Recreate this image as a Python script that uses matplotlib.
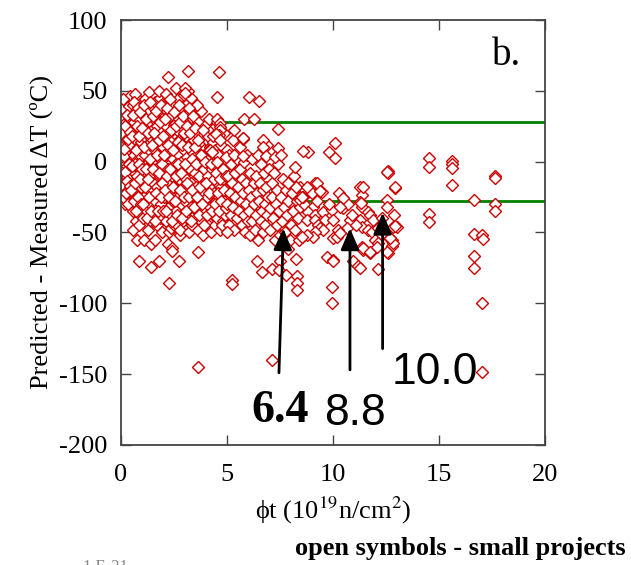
import numpy as np
import matplotlib
matplotlib.use("Agg")
import matplotlib.pyplot as plt
from matplotlib import font_manager

plt.rcParams['font.family'] = ['Liberation Serif', 'DejaVu Serif']
plt.rcParams['mathtext.fontset'] = 'stix'
plt.rcParams['axes.unicode_minus'] = False

# (fluence 1e19 n/cm2, predicted - measured shift degC)
core = [
    (0.05, 12), (0.05, -5), (0.08, 30), (0.1, -20), (0.1, 2), (0.12, 40), (0.15, -12), (0.15, 22),
    (0.18, 8), (0.2, -28), (0.2, 35), (0.22, -2), (0.25, 15), (0.25, -18), (0.28, 42), (0.3, -8),
    (0.3, 27), (0.32, 5), (0.35, -25), (0.35, 33), (0.38, -14), (0.4, 19), (0.4, 46), (0.42, 0),
    (0.45, -22), (0.45, 10), (0.48, 37), (0.5, -10), (0.5, 24), (0.08, -12), (0.12, 18), (0.18, -30),
    (0.22, 28), (0.28, -3), (0.33, -19), (0.38, 12), (0.43, 30), (0.47, -28), (0.03, 38), (0.03, -24),
    (0.16, 4), (0.26, -11), (0.36, 39), (0.46, -4),
    (0.55, -35), (0.55, 40), (0.6, 5), (0.6, -20), (0.62, 28), (0.65, -8), (0.68, 16), (0.7, -42),
    (0.7, 34), (0.72, -26), (0.75, 1), (0.75, 45), (0.78, 22), (0.8, -15), (0.8, -32), (0.82, 10),
    (0.85, 38), (0.85, -5), (0.88, -22), (0.9, 26), (0.9, -38), (0.92, 4), (0.95, 14), (0.95, -12),
    (0.98, 42), (0.98, -28), (0.58, -48), (0.66, 48), (0.74, -55), (0.86, -45), (0.64, -2), (0.84, 30),
    (0.94, -18),
    (1.02, -8), (1.05, 33), (1.05, -40), (1.08, 18), (1.1, -25), (1.12, 5), (1.15, 44), (1.15, -15),
    (1.18, 25), (1.2, -34), (1.22, -2), (1.25, 12), (1.25, -48), (1.28, 36), (1.3, -20), (1.32, 8),
    (1.35, -30), (1.35, 28), (1.38, -10), (1.4, 17), (1.42, 40), (1.42, -42), (1.45, 0), (1.48, -25),
    (1.48, 22), (1.32, 49), (1.1, -55), (1.4, -58),
    (1.52, -15), (1.55, 30), (1.55, -38), (1.58, 8), (1.6, -28), (1.62, 42), (1.65, -5), (1.65, 18),
    (1.68, -45), (1.7, 25), (1.72, -18), (1.75, 3), (1.75, 35), (1.78, -32), (1.8, 12), (1.82, -10),
    (1.85, 45), (1.85, -40), (1.88, 20), (1.9, -22), (1.92, -2), (1.95, 30), (1.95, -50), (1.98, 10),
    (1.6, -55), (1.78, 50), (1.9, -30),
    (2.02, -25), (2.05, 15), (2.05, 38), (2.08, -8), (2.1, -42), (2.12, 25), (2.15, -15), (2.18, 5),
    (2.2, 45), (2.2, -33), (2.22, -5), (2.25, 20), (2.28, -50), (2.3, 32), (2.3, -20), (2.32, 8),
    (2.35, -38), (2.38, 14), (2.4, -10), (2.42, 42), (2.45, -28), (2.45, 2), (2.48, 26), (2.2, -58),
    (2.35, -47), (2.1, 48), (2.48, -45),
    (2.52, -18), (2.55, 35), (2.55, 10), (2.58, -35), (2.6, -2), (2.62, 22), (2.65, -45), (2.68, 44),
    (2.7, -25), (2.72, 5), (2.75, 30), (2.75, -12), (2.78, -52), (2.8, 16), (2.82, -30), (2.85, 38),
    (2.85, 0), (2.88, -20), (2.9, 24), (2.92, -42), (2.95, 8), (2.98, -8), (2.98, 47), (2.6, 52),
    (2.8, -48),
    (3.02, -28), (3.05, 18), (3.05, 40), (3.08, -12), (3.1, -40), (3.12, 3), (3.15, 28), (3.18, -20),
    (3.2, -50), (3.22, 12), (3.25, 35), (3.25, -5), (3.28, -32), (3.3, 22), (3.32, -15), (3.35, -45),
    (3.38, 6), (3.4, 30), (3.42, -25), (3.45, 15), (3.48, -8), (3.48, -38), (3.3, 45), (3.15, 50),
    (3.52, -18), (3.55, 20), (3.58, -35), (3.6, 5), (3.62, -48), (3.65, 28), (3.68, -10), (3.7, -28),
    (3.72, 12), (3.75, 36), (3.78, -42), (3.8, -2), (3.82, 18), (3.85, -22), (3.88, -52), (3.9, 8),
    (3.92, -15), (3.95, 25), (3.98, -35), (3.6, 40), (3.9, -5),
    (4.02, 2), (4.05, -25), (4.08, 18), (4.1, -45), (4.12, -10), (4.15, 30), (4.18, -32), (4.2, 10),
    (4.22, -18), (4.25, -50), (4.28, 22), (4.3, -5), (4.32, -38), (4.35, 14), (4.38, -22), (4.4, -2),
    (4.42, -45), (4.45, 8), (4.48, -28), (4.5, 25),
    (4.52, -15), (4.55, -40), (4.58, 5), (4.6, -25), (4.62, 18), (4.65, -8), (4.68, -48), (4.7, -18),
    (4.72, 12), (4.75, -32), (4.78, -2), (4.8, -42), (4.82, -12), (4.85, 20), (4.88, -28), (4.9, 2),
    (4.92, -38), (4.95, -20), (4.98, 8), (4.55, 28), (4.51, 30),
]

# second pass over the low-fluence cloud
core_fill = [
    (0.02, 20), (0.06, -16), (0.09, 44), (0.13, -26), (0.14, 9), (0.19, -7), (0.21, 25), (0.24, -22),
    (0.27, 33), (0.29, -14), (0.31, 16), (0.34, -30), (0.37, -2), (0.41, -17), (0.44, 21), (0.49, -20),
    (0.52, -3), (0.54, 18), (0.57, 33), (0.59, -28), (0.63, 42), (0.67, -15), (0.69, 8), (0.71, -35),
    (0.73, 25), (0.77, -10), (0.79, 38), (0.81, -25), (0.83, -2), (0.87, 18), (0.89, -12), (0.91, 35),
    (0.93, -30), (0.97, -5), (0.99, 24),
    (1.03, -30), (1.07, 10), (1.09, 40), (1.13, -18), (1.17, -5), (1.19, 30), (1.23, -40), (1.27, 20),
    (1.29, -12), (1.33, -25), (1.37, 42), (1.39, 2), (1.43, -35), (1.47, 12), (1.49, 32),
    (1.53, -5), (1.57, 20), (1.59, -42), (1.63, 36), (1.67, -22), (1.69, 5), (1.73, -35), (1.77, 15),
    (1.79, -8), (1.83, 28), (1.87, -25), (1.89, 40), (1.93, -15), (1.97, 18), (1.99, -35),
    (2.03, 5), (2.07, 30), (2.09, -20), (2.13, -35), (2.17, 38), (2.19, -10), (2.23, 12), (2.27, -25),
    (2.29, 44), (2.33, -5), (2.37, 22), (2.39, -42), (2.43, -18), (2.47, 8), (2.49, 35),
    (2.53, -28), (2.57, 25), (2.59, -10), (2.63, -38), (2.67, 14), (2.69, -2), (2.73, 40), (2.77, -20),
    (2.79, 28), (2.83, -8), (2.87, -40), (2.89, 12), (2.93, 32), (2.97, -25), (2.99, 20),
    (3.03, -2), (3.07, -35), (3.09, 25), (3.13, -15), (3.17, 10), (3.19, 38), (3.23, -25), (3.27, 20),
    (3.29, -42), (3.33, 2), (3.37, -20), (3.39, 32), (3.43, -32), (3.47, 10), (3.49, 24),
    (3.53, -2), (3.57, -25), (3.63, 15), (3.67, -38), (3.73, -18), (3.77, 5), (3.83, -30), (3.87, 22),
    (3.93, -45), (3.97, 0),
    (4.03, -15), (4.07, -38), (4.13, 8), (4.17, -22), (4.23, -2), (4.27, -35), (4.33, 18), (4.37, -12),
    (4.43, -30), (4.47, -8),
    (4.53, 0), (4.57, -22), (4.63, -35), (4.67, -12), (4.73, -28), (4.77, -45), (4.83, -5), (4.87, -20),
    (4.93, -10), (4.97, -33),
]

mid = [
    (5.02, -30), (5.05, -10), (5.08, -45), (5.1, 5), (5.15, -22), (5.18, -38), (5.2, -2), (5.25, -15),
    (5.28, 15), (5.3, -32), (5.35, -48), (5.38, -8), (5.4, -25), (5.45, 2), (5.48, -40), (5.32, 22),
    (5.52, -18), (5.55, -35), (5.6, -5), (5.62, 10), (5.65, -28), (5.7, -45), (5.72, -12), (5.75, -22),
    (5.8, 0), (5.82, -38), (5.85, -50), (5.88, -15), (5.9, -30), (5.95, 5), (5.98, -42), (5.77, 16),
    (6.02, -20), (6.05, -35), (6.08, -8), (6.1, -52), (6.15, -25), (6.18, -42), (6.2, 2), (6.25, -15),
    (6.28, -30), (6.3, -48), (6.35, -10), (6.38, -38), (6.4, -22), (6.45, 5), (6.48, -55),
    (6.52, -28), (6.55, -15), (6.58, -42), (6.6, -2), (6.65, -35), (6.68, -20), (6.7, -50), (6.75, -8),
    (6.78, -30), (6.8, -45), (6.85, -18), (6.88, 12), (6.9, -38), (6.95, -25), (6.98, -5),
    (7.02, -33), (7.05, -48), (7.1, -15), (7.12, -25), (7.18, -40), (7.2, -8), (7.25, -55), (7.3, -30),
    (7.35, -20), (7.38, -45), (7.42, -2), (7.45, -35), (7.48, -52),
    (7.55, -25), (7.6, -42), (7.65, -12), (7.7, -32), (7.75, -50), (7.8, -20), (7.85, -38), (7.9, -28),
    (7.95, -55), (8.0, -45), (8.05, -22), (8.1, -35), (8.15, -10), (8.2, -48), (8.3, -28), (8.35, -40),
    (8.4, -55), (8.45, -32),
    (8.44, -17.6), (8.68, -20), (9.15, -15.3), (9.46, -21.2), (8.44, -27), (8.68, -30.6), (9.07, -31.8),
    (8.84, -35.3), (9.15, -37.6), (8.76, -41.2), (9.15, -41.2), (9.54, -35.3), (9.62, -41.2),
    (9.31, -44.7), (9.39, -47.1), (9.54, -48.2), (9.15, -49.4), (9.07, -52.9), (8.76, -51.8),
    (8.52, -52.9), (9.94, -34.1), (10.01, -41.2), (10.49, -25.9), (10.49, -32.9), (10.8, -41.2),
    (10.64, -47.1), (10.25, -48.2), (10.01, -54.1), (10.17, -52.9), (10.33, -50.6), (11.27, -17.6),
    (11.35, -23.5), (11.27, -28.2), (11.35, -31.8), (11.67, -35.3), (11.75, -37.6), (11.9, -41.2),
    (11.27, -41.2), (11.35, -45.9), (11.67, -48.2), (11.82, -49.4), (12.14, -47.1), (11.98, -55.3),
    (12.14, -57.6), (11.35, -60), (11.43, -62.3), (11.75, -64.7), (12.61, -52.9), (12.85, -45.9),
    (13.0, -45.9), (12.77, -55.3), (12.77, -59.5), (12.61, -64.7), (9.7, -67), (10.01, -69.4),
    (8.84, 7.1), (9.83, 7.1), (10.09, 2.4), (10.09, 13.4), (12.58, -6.6), (12.58, -7.8),
    (12.92, -18.8), (12.56, -27), (12.56, -31.8),
    (8.6, -25), (9.0, -22), (9.25, -28), (9.8, -30), (10.3, -22), (10.7, -30), (10.9, -38),
    (11.1, -45), (12.3, -40), (12.4, -50), (12.9, -38),
]

# scattered points away from the main cloud
outliers = [
    (3.18, 64), (4.62, 63), (2.2, 60), (3.02, 52), (3.02, 48.7), (4.51, 45.7), (6.05, 45.9),
    (6.52, 43), (5.82, 30), (6.29, 30), (7.39, 23.3), (5.77, 16.5), (6.71, 15.3), (6.71, 10.6),
    (7.39, 9.9), (8.21, -4), (8.24, -17.6), (7.89, -15.3), (8.52, -24.7), (8.76, -17.6),
    (9.23, -15.3), (9.39, -20.7), (10.49, -25.4), (10.33, -31.8), (11.43, -17.6), (11.31, -29.4),
    (12.53, -7.1), (12.92, -18), (4.67, 27), (4.67, 24.7), (4.67, 22.4), (4.6, 18.8), (4.5, 19.5),
    (4.67, 15.3), (5.74, 17), (4.2, 8.3), (4.28, 7), (8.6, 7.8), (4.95, 3), (5.35, 5), (5.74, 4),
    (6.84, 4), (7.24, 3), (7.56, 5),
    (0.86, -69.9), (1.42, -74.5), (1.81, -70.1), (2.75, -69.9), (2.25, -85.8), (3.62, -63.5),
    (2.39, -61.1), (2.39, -63), (5.02, -49.4), (5.24, -83.5), (5.24, -86.3), (6.4, -70.1),
    (6.64, -77.6), (7.14, -75.7), (7.5, -70.1), (7.44, -76.5), (7.8, -80), (7.86, -61.6),
    (8.25, -68.9), (8.29, -80.7), (8.32, -85.8), (8.32, -90.6), (10.01, -69.9), (9.97, -88.2),
    (9.97, -99.5), (10.96, -69.9), (11.2, -73.6), (11.27, -75.2), (12.1, -76), (11.43, -61.1),
    (11.75, -63.5), (12.06, -60), (12.56, -63.5), (12.85, -57.6), (12.69, -54), (12.92, -45.4),
    (3.63, -144.7), (7.12, -140),
    (14.53, 2.8), (14.53, -3.5), (15.63, 0.5), (15.63, -1.6), (15.63, -4.7), (15.63, -16.4),
    (17.64, -10.1), (17.64, -11.5), (16.65, -27), (17.64, -29.9), (17.64, -34.8), (14.53, -36.9),
    (14.53, -42.8), (16.65, -51.2), (17.01, -51.7), (17.06, -54.8), (16.65, -66.4), (16.65, -75.2),
    (17.01, -100), (17.01, -148.7),
]

band = 28  # +/- scatter band
# arrows: (tail x, tail y, head x, head y)
arrows = [(7.45, -149, 7.66, -47), (10.8, -147, 10.8, -47), (12.34, -132, 12.34, -36)]

pts = np.array(core + core_fill + mid + outliers)

# narrow face for the flux labels, if one is around
names = {f.name for f in font_manager.fontManager.ttflist}
narrow = [n for n in ('Liberation Sans Narrow', 'DejaVu Sans Condensed') if n in names]
if narrow:
    num_font = dict(family=[narrow[0], 'DejaVu Sans'], fontsize=33)
else:
    num_font = dict(family=['Liberation Sans', 'DejaVu Sans'], fontsize=32)

fig = plt.figure(figsize=(6.31, 5.65), dpi=100)
ax = fig.add_axes([0.1918, 0.2124, 0.6719, 0.7522])

ax.axhline(band, color='#008000', lw=2, zorder=1)
ax.axhline(-band, color='#008000', lw=2, zorder=1)
ax.plot(pts[:, 0], pts[:, 1], ls='none', marker='D', ms=5.8, mfc='white',
        mec='#cc0000', mew=1.0, zorder=2)

for x0, y0, x1, y1 in arrows:
    ax.annotate('', xy=(x1, y1), xytext=(x0, y0),
                arrowprops=dict(arrowstyle='-|>,head_length=0.65,head_width=0.28',
                                color='black', lw=2, mutation_scale=20,
                                shrinkA=0, shrinkB=0), zorder=3)

ax.text(7.5, -176, '6.4', fontsize=33, fontweight='bold', ha='center', va='center')
ax.text(11.04, -178, '8.8', ha='center', va='center', **num_font)
ax.text(14.8, -149, '10.0', ha='center', va='center', **num_font)
ax.text(18.2, 75, 'b.', fontsize=28, ha='center', va='center')

ax.set_xlim(0, 20)
ax.set_ylim(-200, 100)
ax.set_xticks([0, 5, 10, 15, 20])
ax.set_yticks([-200, -150, -100, -50, 0, 50, 100])
ax.tick_params(direction='in', length=7, width=1, top=True, right=True,
               labelsize=19, color='#444444')
ax.tick_params(axis='x', pad=14)
ax.tick_params(axis='y', pad=10)
for s in ax.spines.values():
    s.set_color('#444444')
    s.set_linewidth(1.3)

ax.set_xlabel('ϕt (10$^{19}$n/cm$^{2}$)', fontsize=19, labelpad=6)
ax.set_ylabel('Predicted - Measured ΔT (ºC)', fontsize=19, labelpad=4)

fig.text(626 / 631, 1 - 549 / 565, 'open symbols - small projects', fontsize=19,
         fontweight='bold', ha='right', va='center')
fig.text(83 / 631, 1 - 559 / 565, '1 E-21', fontsize=12, color='#888888', va='top')

fig.savefig('out.png', dpi=100)
